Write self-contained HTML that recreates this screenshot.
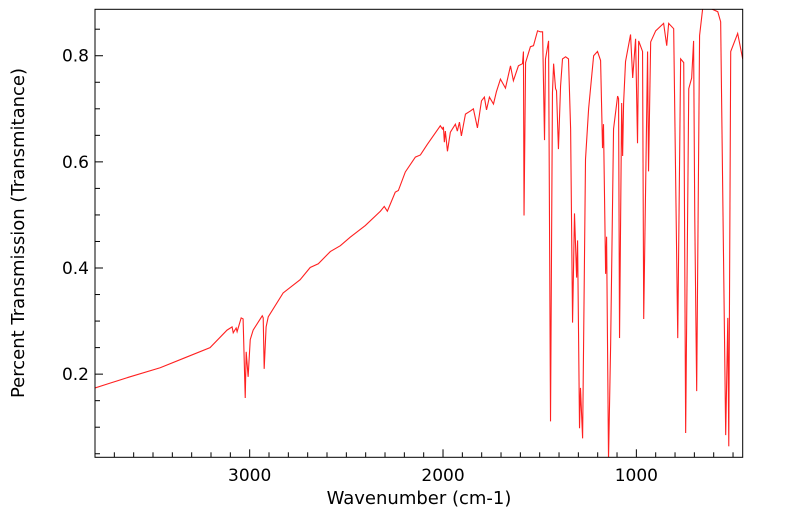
<!DOCTYPE html>
<html><head><meta charset="utf-8">
<style>
html,body{margin:0;padding:0;background:#fff;}
svg{display:block;font-family:"DejaVu Sans","Liberation Sans",sans-serif;}
</style></head>
<body>
<svg id="chart" width="799" height="516" viewBox="0 0 799 516" xmlns="http://www.w3.org/2000/svg">
<defs><clipPath id="plotclip"><rect x="95" y="9.3" width="647.7" height="448"/></clipPath></defs>
<g id="axes"></g>
<path id="series" fill="none" stroke="#ff2020" stroke-width="1.1" clip-path="url(#plotclip)"/>
<rect x="95" y="9.3" width="647.7" height="448" fill="none" stroke="#000" stroke-width="1"/>
<text x="419" y="504" font-size="18" text-anchor="middle">Wavenumber (cm-1)</text>
<text transform="translate(24,233) rotate(-90)" font-size="18" text-anchor="middle">Percent Transmission (Transmitance)</text>
</svg>
<script>
const wavenumbers = [3800,3722,3619,3463,3334,3205,3117,3091,3085,3070,3065,3044,3034,3023,3018,3008,2997,2982,2935,2930,2925,2915,2904,2827,2739,2687,2645,2583,2531,2480,2402,2324,2304,2288,2247,2231,2195,2143,2117,2081,2014,2003,1998,1993,1988,1977,1962,1936,1926,1915,1905,1884,1858,1843,1822,1801,1786,1775,1760,1739,1724,1703,1677,1651,1636,1610,1589,1584,1581,1573,1548,1532,1511,1496,1485,1475,1470,1454,1444,1434,1428,1418,1413,1403,1392,1382,1366,1351,1340,1330,1320,1309,1304,1294,1289,1278,1263,1247,1221,1201,1185,1175,1170,1159,1154,1144,1133,1118,1097,1092,1087,1076,1071,1066,1056,1030,1019,1004,994,988,968,962,942,937,926,900,859,843,833,807,786,771,755,745,729,714,704,698,688,673,657,616,579,564,538,527,522,512,476,450];
const transmittance = [0.174,0.183,0.195,0.212,0.231,0.250,0.283,0.289,0.278,0.287,0.280,0.306,0.304,0.155,0.242,0.195,0.265,0.283,0.310,0.306,0.210,0.289,0.308,0.353,0.378,0.401,0.408,0.431,0.442,0.458,0.480,0.507,0.516,0.507,0.543,0.546,0.581,0.609,0.613,0.633,0.668,0.662,0.666,0.637,0.658,0.620,0.656,0.671,0.658,0.675,0.649,0.690,0.696,0.700,0.664,0.715,0.722,0.698,0.722,0.709,0.732,0.756,0.739,0.781,0.753,0.781,0.785,0.808,0.499,0.787,0.817,0.819,0.847,0.845,0.845,0.641,0.794,0.828,0.111,0.730,0.785,0.738,0.734,0.624,0.743,0.794,0.798,0.794,0.662,0.297,0.503,0.382,0.452,0.098,0.174,0.079,0.605,0.700,0.800,0.808,0.791,0.626,0.671,0.389,0.459,0.038,0.257,0.662,0.724,0.719,0.268,0.711,0.611,0.711,0.789,0.840,0.758,0.832,0.635,0.828,0.808,0.304,0.808,0.582,0.826,0.847,0.861,0.819,0.861,0.851,0.268,0.794,0.787,0.089,0.738,0.758,0.828,0.499,0.168,0.838,0.889,0.889,0.883,0.864,0.085,0.306,0.064,0.808,0.842,0.794];
const xTickLabels = [3000,2000,1000];
const yTickLabels = [0.2,0.4,0.6,0.8];

const X0=95, X1=742.7, Y0=457.3, Y1=9.3;
const WMAX=3800, WMIN=450, TMIN=0.0433, TMAX=0.8875;
function xScale(w){return X0+(WMAX-w)/(WMAX-WMIN)*(X1-X0);}
function yScale(t){return Y0-(t-TMIN)/(TMAX-TMIN)*(Y0-Y1);}

const NS="http://www.w3.org/2000/svg";
const axes=document.getElementById('axes');
function line(x1,y1,x2,y2,name){
  const l=document.createElementNS(NS,'line');
  l.setAttribute('x1',x1);l.setAttribute('y1',y1);l.setAttribute('x2',x2);l.setAttribute('y2',y2);
  l.setAttribute('stroke','#000');l.setAttribute('stroke-width','1');
  
  
  axes.appendChild(l);
}
// x minor ticks every 100
for(let w=3700; w>=500; w-=100){
  const x=xScale(w);
  const major = w%1000===0;
  line(x,Y0,x,Y0-(major?8:5),'x-tick');
}
xTickLabels.forEach(v=>{
  const t=document.createElementNS(NS,'text');
  t.setAttribute('x',xScale(v));t.setAttribute('y',481);
  t.setAttribute('font-size','17');t.setAttribute('text-anchor','middle');
  
  
  t.textContent=v; axes.appendChild(t);
});
for(let i=1;i<=17;i++){
  const v=i*0.05; const y=yScale(v);
  if(y<Y1||y>Y0) continue;
  const major = i%4===0;
  line(X0,y,X0+(major?8:5),y,'y-tick');
}
yTickLabels.forEach(v=>{
  const t=document.createElementNS(NS,'text');
  t.setAttribute('x',89);t.setAttribute('y',yScale(v)+6);
  t.setAttribute('font-size','17');t.setAttribute('text-anchor','end');
  
  
  t.textContent=v.toFixed(1); axes.appendChild(t);
});
let d='';
wavenumbers.forEach((w,i)=>{ d+=(i?'L':'M')+xScale(w).toFixed(2)+','+yScale(transmittance[i]).toFixed(2); });
document.getElementById('series').setAttribute('d',d);
</script>
</body></html>
